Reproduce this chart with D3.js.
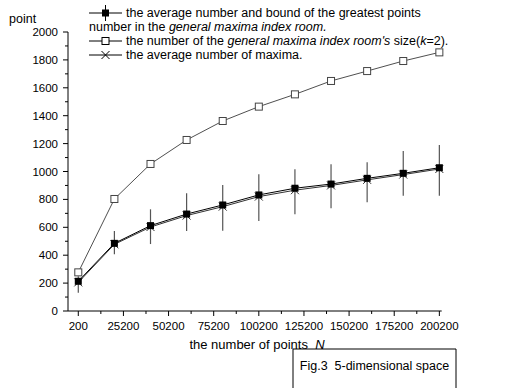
<!DOCTYPE html>
<html>
<head>
<meta charset="utf-8">
<script src="https://cdn.jsdelivr.net/npm/d3@7"></script>
<style>
  body { margin: 0; background: #fff; }
  svg text { font-family: "Liberation Sans", Arial, sans-serif; fill: #000; }
</style>
</head>
<body>
<div id="chart"></div>
<script>
// values
const nValues     = [200, 20200, 40200, 60200, 80200, 100200, 120200, 140200, 160200, 180200, 200200]
const roomSize    = [277, 803, 1054, 1226, 1362, 1465, 1553, 1649, 1720, 1792, 1854]
const avgGreatest = [213, 485, 612, 695, 760, 832, 880, 910, 951, 987, 1027]
const boundLow    = [130, 406, 480, 573, 576, 645, 693, 736, 779, 827, 827]
const boundHigh   = [250, 573, 729, 844, 903, 980, 1016, 1052, 1066, 1147, 1190]
const avgMaxima   = [205, 478, 602, 684, 748, 820, 866, 900, 940, 978, 1018]
const xTicks = [200, 25200, 50200, 75200, 100200, 125200, 150200, 175200, 200200]
const yTicks = [0, 200, 400, 600, 800, 1000, 1200, 1400, 1600, 1800, 2000]

const legendRows = [
  { sym: 'filled', parts: [['the average number and bound of the greatest points', false]] },
  { sym: null, parts: [['number in the ', false], ['general maxima index room.', true]] },
  { sym: 'open', parts: [['the number of the ', false], ["general maxima index room's", true], [' size(', false], ['k', true], ['=2).', false]] },
  { sym: 'cross', parts: [['the average number of maxima.', false]] }
]

const width = 509, height = 388

const svg = d3.select('#chart').append('svg')
  .attr('width', width)
  .attr('height', height)

const x = d3.scaleLinear().domain([-5500, 201500]).range([68, 441.7])
const y = d3.scaleLinear().domain([0, 2000]).range([311, 32])

// minor ticks sit halfway between the labelled ones
const xMinor = d3.range(12700, 201000, 25000)
const yMinor = d3.range(100, 2000, 200)

// x axis
const gx = svg.append('g').attr('transform', 'translate(0,311)')
gx.append('line').attr('x1', 68).attr('x2', x(201500)).attr('stroke', '#000')
gx.selectAll('.maj').data(xTicks).join('line')
  .attr('x1', d => x(d)).attr('x2', d => x(d)).attr('y1', 0).attr('y2', 5).attr('stroke', '#000')
gx.selectAll('.min').data(xMinor).join('line')
  .attr('x1', d => x(d)).attr('x2', d => x(d)).attr('y1', 0).attr('y2', 3).attr('stroke', '#000')
gx.selectAll('text').data(xTicks).join('text')
  .attr('x', d => x(d)).attr('y', 19)
  .attr('text-anchor', 'middle')
  .style('font-size', '11.5px')
  .text(d => d)

// y axis
const gy = svg.append('g').attr('transform', 'translate(68,0)')
gy.append('line').attr('y1', y(0)).attr('y2', y(2000)).attr('stroke', '#000')
gy.selectAll('.maj').data(yTicks).join('line')
  .attr('y1', d => y(d)).attr('y2', d => y(d)).attr('x1', 0).attr('x2', -5).attr('stroke', '#000')
gy.selectAll('.min').data(yMinor).join('line')
  .attr('y1', d => y(d)).attr('y2', d => y(d)).attr('x1', 0).attr('x2', -3).attr('stroke', '#000')
gy.selectAll('text').data(yTicks).join('text')
  .attr('x', -10).attr('y', d => y(d) + 4)
  .attr('text-anchor', 'end')
  .style('font-size', '11.5px')
  .text(d => d)

// axis titles
svg.append('text').attr('x', 9).attr('y', 23).style('font-size', '12.5px').text('point')
const xt = svg.append('text').attr('x', 257).attr('y', 349)
  .attr('text-anchor', 'middle').style('font-size', '13px')
xt.append('tspan').text('the number of points\u00a0\u00a0')
xt.append('tspan').style('font-style', 'italic').text('N')

const line = d3.line()

// open squares series
const ptsOpen = nValues.map((n, i) => [x(n), y(roomSize[i])])
svg.append('path').attr('d', line(ptsOpen))
  .attr('fill', 'none').attr('stroke', '#222').attr('stroke-width', 0.8)
svg.selectAll('.osq').data(ptsOpen).join('rect')
  .attr('x', d => d[0] - 3.5).attr('y', d => d[1] - 3.5)
  .attr('width', 7).attr('height', 7)
  .attr('fill', '#fff').attr('stroke', '#444').attr('stroke-width', 1)

// error bars
svg.selectAll('.err').data(nValues).join('line')
  .attr('x1', d => x(d)).attr('x2', d => x(d))
  .attr('y1', (d, i) => y(boundHigh[i])).attr('y2', (d, i) => y(boundLow[i]))
  .attr('stroke', '#555').attr('stroke-width', 1.2)

// average maxima (crosses)
const ptsCross = nValues.map((n, i) => [x(n), y(avgMaxima[i])])
svg.append('path').attr('d', line(ptsCross))
  .attr('fill', 'none').attr('stroke', '#333').attr('stroke-width', 1)
svg.selectAll('.crs').data(ptsCross).join('path')
  .attr('d', d => `M${d[0] - 4},${d[1] - 4}L${d[0] + 4},${d[1] + 4}M${d[0] - 4},${d[1] + 4}L${d[0] + 4},${d[1] - 4}`)
  .attr('stroke', '#333').attr('stroke-width', 1)

// average greatest (filled squares)
const ptsFill = nValues.map((n, i) => [x(n), y(avgGreatest[i])])
svg.append('path').attr('d', line(ptsFill))
  .attr('fill', 'none').attr('stroke', '#000').attr('stroke-width', 1)
svg.selectAll('.fsq').data(ptsFill).join('rect')
  .attr('x', d => d[0] - 3.5).attr('y', d => d[1] - 3.5)
  .attr('width', 7).attr('height', 7)
  .attr('fill', '#000')

// legend
const lg = svg.append('g')
legendRows.forEach((row, i) => {
  const ly = 13 + i * 14
  let tx = 89
  if (row.sym) {
    lg.append('line').attr('x1', 89).attr('x2', 122).attr('y1', ly).attr('y2', ly).attr('stroke', '#000')
    if (row.sym === 'filled') {
      lg.append('line').attr('x1', 105.5).attr('x2', 105.5).attr('y1', ly - 8).attr('y2', ly + 8).attr('stroke', '#000')
      lg.append('rect').attr('x', 102).attr('y', ly - 3.5).attr('width', 7).attr('height', 7).attr('fill', '#000')
    } else if (row.sym === 'open') {
      lg.append('rect').attr('x', 102).attr('y', ly - 3.5).attr('width', 7).attr('height', 7)
        .attr('fill', '#fff').attr('stroke', '#000')
    } else {
      lg.append('path').attr('d', `M101.5,${ly - 4}L109.5,${ly + 4}M101.5,${ly + 4}L109.5,${ly - 4}`).attr('stroke', '#000')
    }
    tx = 126
  }
  const t = lg.append('text').attr('x', tx).attr('y', ly + 4).style('font-size', '12.5px')
  row.parts.forEach(p => {
    t.append('tspan').style('font-style', p[1] ? 'italic' : 'normal').text(p[0])
  })
})

// caption box
svg.append('path').attr('d', 'M293,388V349H456V388')
  .attr('fill', 'none').attr('stroke', '#000').attr('stroke-width', 1)
svg.append('text').attr('x', 374.5).attr('y', 370).attr('text-anchor', 'middle')
  .style('font-size', '12.5px').text('Fig.3\u00a0\u00a05-dimensional space')
</script>
</body>
</html>
